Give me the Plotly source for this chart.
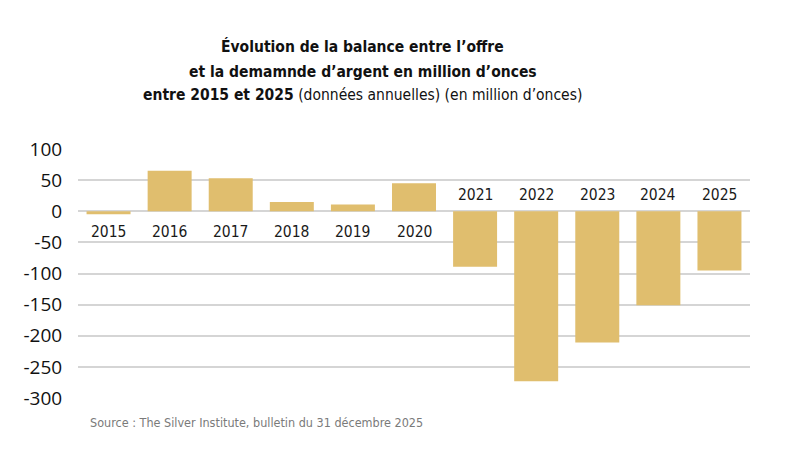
import plotly.graph_objects as go

years = ["2015", "2016", "2017", "2018", "2019", "2020", "2021", "2022", "2023", "2024", "2025"]
balance = [-5, 65, 53, 15, 11, 45, -89, -273, -211, -151, -95]
tick_vals = [100, 50, 0, -50, -100, -150, -200, -250, -300]
tick_text = ["100", "50", "0", "-50", "-100", "-150", "-200", "-250", "-300"]

title_lines = [
    "<b>Évolution de la balance entre l’offre</b>",
    "<b>et la demamnde d’argent en million d’onces</b>",
    "<b>entre 2015 et 2025</b> (données annuelles) (en million d’onces)",
]
source = "Source : The Silver Institute, bulletin du 31 décembre 2025"

BAR = "#E0BE6E"
GRID = "#D5D5D5"
NARROW = "DejaVu Sans Condensed, sans-serif"

fig = go.Figure(
    go.Bar(x=list(range(len(years))), y=balance, marker_color=BAR,
           marker_line_width=0, width=0.72)
)

annotations = []
for y_text, ypos in zip(title_lines, [1.411, 1.311, 1.218]):
    annotations.append(dict(
        text=y_text, xref="paper", yref="paper", x=0.424, y=ypos,
        xanchor="center", yanchor="middle", showarrow=False,
        font=dict(family=NARROW, size=15.5, color="#111111"),
    ))

for i, (yr, v) in enumerate(zip(years, balance)):
    above = v < -50
    annotations.append(dict(
        text=yr, xref="x", yref="y", x=i, y=0,
        yshift=16 if above else -21,
        xanchor="center", yanchor="middle", showarrow=False,
        font=dict(family=NARROW, size=15.5, color="#1a1a1a"),
    ))

annotations.append(dict(
    text=source, xref="paper", yref="paper", x=0.015, y=-0.1,
    xanchor="left", yanchor="middle", showarrow=False,
    font=dict(family=NARROW, size=12.5, color="#7a7a7a"),
))

fig.update_layout(
    width=800, height=450,
    margin=dict(l=78, r=50, t=149, b=52),
    paper_bgcolor="white", plot_bgcolor="white",
    showlegend=False,
    annotations=annotations,
)
fig.update_xaxes(showticklabels=False, showgrid=False, zeroline=False,
                 showline=False, range=[-0.5, 10.5])
fig.update_yaxes(range=[-300, 100], tickvals=tick_vals, ticktext=tick_text,
                 showgrid=True, gridcolor=GRID, gridwidth=1.5,
                 zeroline=True, zerolinecolor=GRID, zerolinewidth=1.5,
                 ticks="outside", ticklen=11, tickcolor="rgba(0,0,0,0)",
                 tickfont=dict(family="Open Sans", size=19, color="#111111"),
                 showline=False)

fig.write_html("out.html")
